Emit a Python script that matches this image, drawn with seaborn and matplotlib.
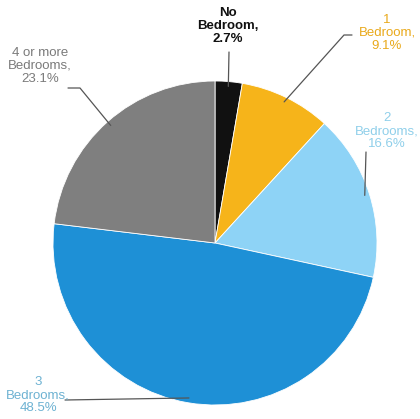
import numpy as np
import matplotlib
matplotlib.use("Agg")
import matplotlib.pyplot as plt
import seaborn as sns

categories = ["No\nBedroom,", "1\nBedroom,", "2\nBedrooms,", "3\nBedrooms,", "4 or more\nBedrooms,"]
values = [2.7, 9.1, 16.6, 48.5, 23.1]
colors = ["#111111", "#F6B41A", "#8ED3F6", "#1E90D6", "#7F7F7F"]
label_colors = ["#111111", "#E9A91B", "#8FCFEA", "#6DB2D2", "#7A7A7A"]
label_bold = [True, False, False, False, False]

sns.set_theme(style="white")
plt.rcParams['font.family'] = ['Liberation Sans', 'DejaVu Sans']

fig = plt.figure(figsize=(4.2, 4.19), dpi=100)
ax = fig.add_axes([0, 0, 1, 1])

cx, cy, r = 215, 176, 162
wedges, _ = ax.pie(values, colors=colors, startangle=90, counterclock=False,
                   center=(cx, cy), radius=r, frame=True,
                   wedgeprops=dict(edgecolor="white", linewidth=0.6))
ax.set_xlim(0, 420)
ax.set_ylim(0, 419)
ax.set_aspect('equal')
ax.axis('off')

# label layout (pixel-based positions, y up)
text_pos = [(228, 393), (387, 386), (387, 288), (38, 24), (40, 353)]
# leader line waypoints (after the wedge edge point)
line_pts = [
    [(229, 367)],
    [(344, 384), (352, 384)],
    [(366, 267)],
    [(65, 19)],
    [(80, 331), (68, 331)],
]

for w, val, cat, tp, pts, lc, bold in zip(wedges, values, categories, text_pos,
                                         line_pts, label_colors, label_bold):
    ang = np.deg2rad((w.theta1 + w.theta2) / 2)
    ex, ey = cx + r * 0.97 * np.cos(ang), cy + r * 0.97 * np.sin(ang)
    xs = [ex] + [p[0] for p in pts]
    ys = [ey] + [p[1] for p in pts]
    ax.plot(xs, ys, color="#555555", lw=0.9, zorder=5)
    ax.text(tp[0], tp[1], f"{cat}\n{val}%", ha="center", va="center",
            fontsize=9.5, color=lc, fontweight="bold" if bold else "normal",
            linespacing=1.12, zorder=6)

fig.savefig("out.png", dpi=100)
